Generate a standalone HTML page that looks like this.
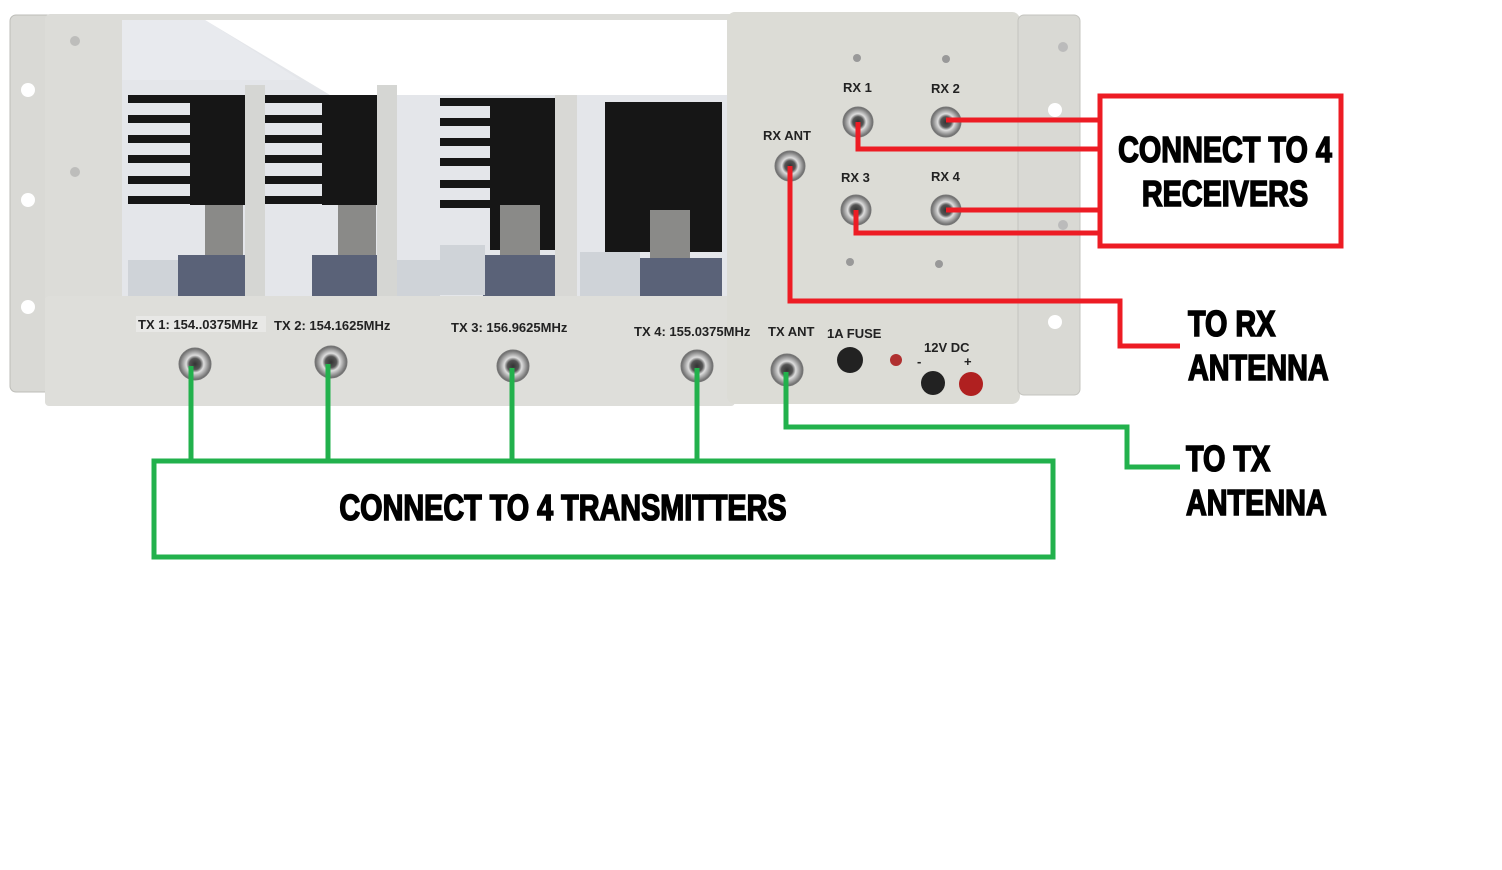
<!DOCTYPE html>
<html><head><meta charset="utf-8"><style>
html,body{margin:0;padding:0;background:#fff;width:1502px;height:870px;overflow:hidden}
svg{display:block}
.lb{font-family:"Liberation Sans",sans-serif;font-size:13px;font-weight:bold;fill:#222}
.big{font-family:"Liberation Sans Narrow","Liberation Sans",sans-serif;font-weight:bold;fill:#000;stroke:#000;stroke-width:1.6}
</style></head><body>
<svg width="1502" height="870" viewBox="0 0 1502 870" xmlns="http://www.w3.org/2000/svg">
<defs>
<radialGradient id="cn" cx="50%" cy="50%" r="50%"><stop offset="0" stop-color="#333"/><stop offset="0.35" stop-color="#555"/><stop offset="0.55" stop-color="#ddd"/><stop offset="0.8" stop-color="#999"/><stop offset="1" stop-color="#666"/></radialGradient>
</defs>
<rect x="10" y="15" width="50" height="377" rx="6" fill="#d9d9d5" stroke="#bdbdb8"/>
<circle cx="28" cy="90" r="7" fill="#fff"/><circle cx="28" cy="200" r="7" fill="#fff"/><circle cx="28" cy="307" r="7" fill="#fff"/>
<rect x="45" y="14" width="690" height="392" rx="5" fill="#dcdcd8"/>
<rect x="122" y="20" width="605" height="276" fill="#fff"/>
<polygon points="122,20 205,20 330,95 560,95 727,95 727,296 122,296" fill="#e4e6ea"/>
<polygon points="122,20 205,20 300,80 122,80" fill="#e8eaee"/>
<g fill="#161616">
<rect x="190" y="95" width="55" height="110"/>
<rect x="128" y="95" width="62" height="8"/><rect x="128" y="115" width="62" height="8"/><rect x="128" y="135" width="62" height="8"/><rect x="128" y="155" width="62" height="8"/><rect x="128" y="176" width="62" height="8"/><rect x="128" y="196" width="62" height="8"/>
<rect x="322" y="95" width="55" height="110"/>
<rect x="265" y="95" width="57" height="8"/><rect x="265" y="115" width="57" height="8"/><rect x="265" y="135" width="57" height="8"/><rect x="265" y="155" width="57" height="8"/><rect x="265" y="176" width="57" height="8"/><rect x="265" y="196" width="57" height="8"/>
<rect x="490" y="98" width="65" height="152"/>
<rect x="440" y="98" width="50" height="8"/><rect x="440" y="118" width="50" height="8"/><rect x="440" y="138" width="50" height="8"/><rect x="440" y="158" width="50" height="8"/><rect x="440" y="180" width="50" height="8"/><rect x="440" y="200" width="50" height="8"/>
<rect x="605" y="102" width="117" height="150"/>
</g>
<rect x="245" y="85" width="20" height="212" fill="#d5d6d3"/>
<rect x="377" y="85" width="20" height="212" fill="#d5d6d3"/>
<rect x="555" y="95" width="22" height="202" fill="#d8d8d5"/>
<g fill="#8a8a88"><rect x="205" y="205" width="38" height="50"/><rect x="338" y="205" width="38" height="50"/><rect x="500" y="205" width="40" height="50"/><rect x="650" y="210" width="40" height="48"/></g>
<g fill="#5a6278"><rect x="178" y="255" width="67" height="42"/><rect x="312" y="255" width="65" height="42"/><rect x="483" y="255" width="72" height="42"/><rect x="640" y="258" width="82" height="39"/></g>
<g fill="#cfd3d8"><rect x="440" y="245" width="45" height="50"/><rect x="580" y="252" width="60" height="44"/><rect x="128" y="260" width="50" height="36"/><rect x="397" y="260" width="43" height="36"/></g>
<g fill="#bdbdbb"><circle cx="75" cy="41" r="5"/><circle cx="75" cy="172" r="5"/><circle cx="75" cy="302" r="5"/></g>
<rect x="45" y="296" width="690" height="110" rx="4" fill="#dededa"/>
<rect x="727" y="12" width="293" height="392" rx="8" fill="#dcdcd6"/>
<rect x="1018" y="15" width="62" height="380" rx="6" fill="#d9d9d4" stroke="#c4c4bf"/>
<circle cx="1063" cy="47" r="5" fill="#bbb"/><circle cx="1055" cy="110" r="7" fill="#fff"/><circle cx="1063" cy="225" r="5" fill="#bbb"/><circle cx="1055" cy="322" r="7" fill="#fff"/>
<g fill="#999"><circle cx="857" cy="58" r="4"/><circle cx="946" cy="59" r="4"/><circle cx="850" cy="262" r="4"/><circle cx="939" cy="264" r="4"/></g>
<g class="lb">
<rect x="136" y="316" width="130" height="16" fill="#e8e8e6"/>
<text x="138" y="329">TX 1: 154..0375MHz</text>
<text x="274" y="330">TX 2: 154.1625MHz</text>
<text x="451" y="332">TX 3: 156.9625MHz</text>
<text x="634" y="336">TX 4: 155.0375MHz</text>
<text x="768" y="336">TX ANT</text>
<text x="827" y="338">1A FUSE</text>
<text x="924" y="352">12V DC</text>
<text x="917" y="366">-</text><text x="964" y="366">+</text>
<text x="843" y="92">RX 1</text><text x="931" y="93">RX 2</text>
<text x="763" y="140">RX ANT</text>
<text x="841" y="182">RX 3</text><text x="931" y="181">RX 4</text>
</g>
<g fill="url(#cn)" stroke="#777">
<circle cx="195" cy="364" r="16"/><circle cx="331" cy="362" r="16"/><circle cx="513" cy="366" r="16"/><circle cx="697" cy="366" r="16"/><circle cx="787" cy="370" r="16"/>
<circle cx="790" cy="166" r="15"/><circle cx="858" cy="122" r="15"/><circle cx="946" cy="122" r="15"/><circle cx="856" cy="210" r="15"/><circle cx="946" cy="210" r="15"/>
</g>
<circle cx="850" cy="360" r="13" fill="#222"/>
<circle cx="896" cy="360" r="6" fill="#b03030"/>
<circle cx="933" cy="383" r="12" fill="#222"/><circle cx="971" cy="384" r="12" fill="#b02020"/>
<g stroke="#22b14c" stroke-width="5" fill="none">
<path d="M191 366V460M328 364V460M512 368V460M697 368V460"/>
<rect x="154" y="461" width="899" height="96"/>
<path d="M786 372V427H1127V467H1180"/>
</g>
<g stroke="#ed1c24" stroke-width="5" fill="none">
<rect x="1100" y="96" width="241" height="150"/>
<path d="M946 120H1100M858 122V149H1100M946 210H1100M856 210V233H1100M790 166V301H1120V346H1180"/>
</g>
<g class="big" font-size="36">
<text x="1225" y="162" text-anchor="middle" transform="translate(1225 0) scale(0.8 1) translate(-1225 0)">CONNECT TO 4</text>
<text x="1225" y="206" text-anchor="middle" transform="translate(1225 0) scale(0.8 1) translate(-1225 0)">RECEIVERS</text>
<text x="1188" y="336" transform="translate(1188 0) scale(0.8 1) translate(-1188 0)">TO RX</text>
<text x="1188" y="380" transform="translate(1188 0) scale(0.8 1) translate(-1188 0)">ANTENNA</text>
<text x="1186" y="471" transform="translate(1186 0) scale(0.8 1) translate(-1186 0)">TO TX</text>
<text x="1186" y="515" transform="translate(1186 0) scale(0.8 1) translate(-1186 0)">ANTENNA</text>
<text x="563" y="520" text-anchor="middle" transform="translate(563 0) scale(0.8 1) translate(-563 0)">CONNECT TO 4 TRANSMITTERS</text>
</g>
</svg>
</body></html>
